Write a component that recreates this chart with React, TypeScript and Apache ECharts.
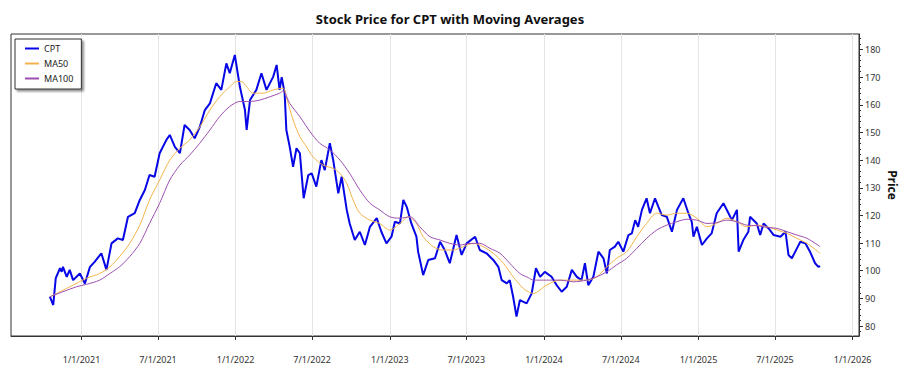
import React, { useEffect, useRef } from "react";
import * as echarts from "echarts";

const cptDates = [
  "2020-10-18","2020-10-26","2020-11-01","2020-11-11","2020-11-15","2020-11-18","2020-11-27","2020-12-04","2020-12-12","2020-12-28",
  "2021-01-09","2021-01-21","2021-02-01","2021-02-17","2021-03-01","2021-03-13","2021-03-28","2021-04-09","2021-04-21","2021-05-07",
  "2021-05-19","2021-05-31","2021-06-11","2021-06-23","2021-07-05","2021-07-21","2021-07-29","2021-08-10","2021-08-22","2021-09-02",
  "2021-09-14","2021-09-26","2021-10-08","2021-10-20","2021-11-01","2021-11-16","2021-11-28","2021-12-10","2021-12-18","2021-12-30",
  "2022-01-11","2022-01-23","2022-01-27","2022-02-04","2022-02-19","2022-03-03","2022-03-15","2022-03-31","2022-04-08","2022-04-15",
  "2022-04-20","2022-04-27","2022-05-01","2022-05-09","2022-05-17","2022-05-25","2022-06-02","2022-06-11","2022-06-22","2022-06-30",
  "2022-07-11","2022-07-23","2022-07-31","2022-08-12","2022-08-20","2022-09-01","2022-09-09","2022-09-21","2022-09-28","2022-10-10",
  "2022-10-22","2022-11-03","2022-11-15","2022-12-01","2022-12-12","2022-12-24","2023-01-05","2023-01-13","2023-01-25","2023-02-02",
  "2023-02-10","2023-02-21","2023-03-05","2023-03-09","2023-03-21","2023-04-02","2023-04-18","2023-04-30","2023-05-11","2023-05-23",
  "2023-06-08","2023-06-20","2023-07-02","2023-07-22","2023-08-02","2023-08-18","2023-09-03","2023-09-15","2023-09-23","2023-10-05",
  "2023-10-12","2023-10-20","2023-10-28","2023-11-05","2023-11-21","2023-12-03","2023-12-13","2023-12-23","2024-01-03","2024-01-19",
  "2024-01-31","2024-02-12","2024-02-24","2024-03-07","2024-03-19","2024-03-30","2024-04-07","2024-04-15","2024-04-27","2024-05-09",
  "2024-05-21","2024-05-29","2024-06-05","2024-06-17","2024-06-25","2024-07-07","2024-07-19","2024-07-27","2024-08-04","2024-08-11",
  "2024-08-20","2024-08-31","2024-09-08","2024-09-20","2024-09-28","2024-10-06","2024-10-18","2024-10-30","2024-11-11","2024-11-26",
  "2024-12-08","2024-12-16","2024-12-20","2024-12-28","2025-01-09","2025-01-21","2025-02-01","2025-02-13","2025-03-01","2025-03-13",
  "2025-03-21","2025-04-02","2025-04-06","2025-04-17","2025-04-29","2025-05-03","2025-05-19","2025-05-27","2025-06-04","2025-06-16",
  "2025-06-28","2025-07-14","2025-07-26","2025-08-02","2025-08-10","2025-08-22","2025-08-30","2025-09-11","2025-09-22","2025-10-04",
  "2025-10-12","2025-10-16"
];
const cptValues = [
  90.6, 87.6, 97.3, 100.9, 99.6, 101.4, 97.8, 100.3, 96.6, 99.0,
  95.4, 101.4, 103.2, 106.3, 100.3, 109.9, 111.7, 111.1, 119.5, 120.8,
  125.6, 129.2, 134.6, 134.0, 142.5, 147.3, 149.1, 144.8, 142.5, 152.7,
  150.9, 147.9, 152.0, 158.1, 160.5, 167.8, 165.4, 175.0, 171.4, 178.0,
  166.5, 158.1, 150.9, 161.7, 165.4, 171.4, 165.4, 170.2, 174.4, 165.4,
  170.0, 164.2, 150.9, 144.8, 137.6, 144.3, 142.5, 126.2, 134.6, 135.2,
  130.4, 140.0, 136.4, 146.1, 140.0, 128.0, 134.0, 122.0, 117.1, 111.1,
  114.1, 109.3, 115.9, 119.0, 114.1, 109.9, 112.3, 117.7, 117.1, 125.6,
  123.1, 117.1, 112.3, 106.9, 98.4, 103.9, 104.5, 110.5, 107.5, 102.7,
  112.9, 105.7, 109.9, 112.3, 107.5, 106.3, 103.9, 101.4, 96.6, 95.4,
  96.6, 90.6, 83.4, 89.4, 88.2, 91.8, 100.9, 97.8, 99.6, 97.8,
  94.8, 92.4, 94.2, 100.3, 97.8, 96.6, 102.7, 94.8, 97.8, 106.9,
  104.5, 99.0, 107.5, 108.7, 110.5, 106.9, 112.9, 113.5, 118.3, 115.9,
  122.0, 126.2, 120.8, 126.2, 123.1, 120.1, 119.5, 114.1, 122.0, 126.2,
  120.8, 117.7, 112.3, 115.9, 109.3, 111.7, 113.5, 120.8, 124.4, 120.8,
  118.3, 122.0, 106.9, 111.1, 114.1, 119.5, 117.1, 112.9, 117.1, 115.3,
  112.9, 112.3, 114.1, 105.7, 104.5, 108.1, 110.5, 109.9, 106.9, 102.7,
  101.4, 101.7
];

const ma50Dates = [
  "2020-10-18","2020-11-11","2020-12-12","2021-01-13","2021-02-13","2021-03-09","2021-04-01","2021-04-25","2021-05-19","2021-06-11",
  "2021-07-05","2021-07-29","2021-08-22","2021-09-14","2021-10-08","2021-11-01","2021-11-24","2021-12-18","2022-01-03","2022-01-15",
  "2022-01-27","2022-02-11","2022-03-07","2022-03-31","2022-04-23","2022-05-03","2022-05-17","2022-06-02","2022-06-18","2022-07-03",
  "2022-07-27","2022-08-20","2022-09-05","2022-09-21","2022-10-06","2022-10-22","2022-11-15","2022-12-08","2023-01-01","2023-01-25",
  "2023-02-14","2023-03-05","2023-03-21","2023-04-14","2023-05-07","2023-05-31","2023-06-24","2023-07-18","2023-08-10","2023-09-03",
  "2023-09-27","2023-10-20","2023-11-13","2023-11-25","2023-12-07","2024-01-07","2024-02-08","2024-03-11","2024-04-11","2024-05-05",
  "2024-05-29","2024-06-21","2024-07-15","2024-08-08","2024-08-31","2024-09-24","2024-10-18","2024-11-10","2024-12-04","2024-12-28",
  "2025-01-21","2025-02-13","2025-03-09","2025-04-02","2025-04-25","2025-05-19","2025-06-12","2025-07-06","2025-07-30","2025-08-22",
  "2025-09-15","2025-10-16"
];
const ma50Values = [
  90.6, 92.4, 94.8, 97.3, 99.0, 101.4, 105.1, 109.9, 116.5, 125.6,
  132.8, 140.0, 144.3, 147.3, 152.0, 158.1, 162.9, 166.5, 168.4, 168.4,
  166.5, 164.2, 164.2, 165.4, 166.0, 161.7, 154.5, 148.5, 144.8, 141.2,
  138.2, 137.0, 135.2, 131.6, 125.6, 120.8, 118.3, 117.1, 114.7, 117.1,
  119.5, 117.1, 112.3, 108.7, 107.5, 107.5, 108.7, 109.9, 108.7, 106.3,
  102.7, 97.8, 93.6, 92.4, 91.8, 94.8, 96.6, 96.6, 96.6, 97.8,
  101.4, 104.5, 106.9, 112.3, 117.1, 120.8, 120.1, 120.8, 120.8, 119.0,
  115.9, 117.1, 119.0, 117.7, 115.9, 116.5, 115.9, 114.7, 113.5, 111.7,
  109.9, 106.3
];

const ma100Dates = [
  "2020-10-18","2020-11-18","2020-12-20","2021-01-13","2021-02-13","2021-03-09","2021-04-01","2021-04-25","2021-05-19","2021-06-11",
  "2021-07-05","2021-07-29","2021-08-22","2021-09-14","2021-10-08","2021-11-01","2021-11-24","2021-12-18","2022-01-11","2022-02-04",
  "2022-02-27","2022-03-23","2022-04-15","2022-04-23","2022-05-09","2022-06-02","2022-06-26","2022-07-19","2022-08-12","2022-09-05",
  "2022-09-28","2022-10-22","2022-11-15","2022-12-08","2023-01-01","2023-01-25","2023-02-18","2023-03-13","2023-04-06","2023-04-30",
  "2023-05-23","2023-06-16","2023-07-10","2023-08-02","2023-08-26","2023-09-19","2023-10-12","2023-11-05","2023-11-25","2023-12-07",
  "2024-01-07","2024-02-08","2024-03-11","2024-04-11","2024-05-05","2024-05-29","2024-06-21","2024-07-15","2024-08-08","2024-08-31",
  "2024-09-24","2024-10-18","2024-11-10","2024-12-04","2024-12-28","2025-01-21","2025-02-13","2025-03-09","2025-04-02","2025-04-25",
  "2025-05-19","2025-06-12","2025-07-06","2025-07-30","2025-08-22","2025-09-15","2025-10-16"
];
const ma100Values = [
  90.6, 92.4, 94.2, 95.1, 96.6, 99.0, 101.4, 105.1, 109.9, 117.1,
  124.4, 132.8, 138.2, 141.8, 146.1, 150.9, 155.7, 159.4, 161.2, 161.2,
  161.7, 162.9, 164.2, 165.0, 160.5, 155.7, 150.3, 146.1, 143.7, 140.0,
  135.2, 129.2, 124.4, 122.0, 119.5, 119.0, 119.5, 115.9, 112.3, 111.1,
  109.9, 109.3, 109.9, 109.9, 108.1, 106.3, 102.7, 99.0, 97.5, 96.6,
  96.6, 96.6, 96.0, 96.6, 97.8, 99.6, 102.1, 104.5, 108.1, 111.7,
  114.7, 116.5, 117.7, 118.6, 118.3, 117.1, 117.4, 118.3, 117.7, 116.5,
  116.3, 115.7, 115.3, 114.1, 112.9, 111.7, 108.7
];

const xTickDates = [
  "2021-01-01","2021-07-01","2022-01-01","2022-07-01","2023-01-01","2023-07-01",
  "2024-01-01","2024-07-01","2025-01-01","2025-07-01","2026-01-01"
];
const yTickValues = [80, 90, 100, 110, 120, 130, 140, 150, 160, 170, 180];
const yMinorTickValues = [
  78, 80, 82, 84, 86, 88, 90, 92, 94, 96, 98, 100, 102, 104, 106, 108, 110, 112, 114, 116, 118, 120,
  122, 124, 126, 128, 130, 132, 134, 136, 138, 140, 142, 144, 146, 148, 150, 152, 154, 156, 158, 160,
  162, 164, 166, 168, 170, 172, 174, 176, 178, 180, 182, 184
];

const X_MIN = "2020-07-18";
const X_MAX = "2026-01-16";
const Y_MIN = 76.4;
const Y_MAX = 185.6;

const FONT = "'Noto Sans', 'Open Sans', sans-serif";

function ts(s: string): number {
  const [y, m, d] = s.split("-").map(Number);
  return new Date(y, m - 1, d).getTime();
}

function pairs(dates: string[], values: number[]) {
  return dates.map((d, i) => [ts(d), values[i]]);
}

export default function App() {
  const ref = useRef<HTMLDivElement>(null);

  useEffect(() => {
    if (!ref.current) return;
    const chart = echarts.init(ref.current, undefined, { renderer: "svg" });
    const axisColor = "#333";
    const option: any = {
      animation: false,
      backgroundColor: "#fff",
      textStyle: { fontFamily: FONT },
      title: {
        text: "Stock Price for CPT with Moving Averages",
        left: "center",
        top: 7,
        textStyle: { fontSize: 13, fontWeight: "bold", color: "#111", fontFamily: FONT },
      },
      legend: {
        orient: "vertical",
        left: 15,
        top: 39,
        backgroundColor: "#fff",
        borderColor: "#333",
        borderWidth: 1,
        borderRadius: 0,
        shadowColor: "rgba(0,0,0,0.45)",
        shadowBlur: 2,
        shadowOffsetX: 2,
        shadowOffsetY: 2,
        padding: [5, 8, 6, 9],
        itemGap: 6,
        itemWidth: 14,
        itemHeight: 10,
        itemStyle: { opacity: 0 },
        textStyle: { fontSize: 9, color: "#222", fontFamily: FONT },
        data: ["CPT", "MA50", "MA100"],
      },
      grid: {
        left: 11,
        right: 41,
        top: 34,
        bottom: 39,
        show: true,
        borderColor: axisColor,
        borderWidth: 1,
        outerBoundsMode: "none",
      },
      xAxis: {
        type: "value",
        min: ts(X_MIN),
        max: ts(X_MAX),
        scale: true,
        axisLine: { show: true, onZero: false, lineStyle: { color: axisColor, width: 1 } },
        axisTick: {
          show: true,
          length: 4,
          customValues: xTickDates.map(ts),
          lineStyle: { color: axisColor },
        },
        axisLabel: {
          customValues: xTickDates.map(ts),
          margin: 19,
          fontSize: 9,
          color: "#333",
          fontFamily: FONT,
          hideOverlap: false,
          formatter: (v: number) => {
            const d = new Date(v);
            return `${d.getMonth() + 1}/${d.getDate()}/${d.getFullYear()}`;
          },
        },
        splitLine: { show: true, lineStyle: { color: "#e4e4e4", width: 1 } },
      },
      yAxis: [
        {
          type: "value",
          position: "right",
          min: Y_MIN,
          max: Y_MAX,
          name: "Price",
          nameLocation: "middle",
          nameRotate: -90,
          nameGap: 27,
          nameMoveOverlap: false,
          nameTextStyle: { fontSize: 12, fontWeight: "bold", color: "#111", fontFamily: FONT },
          axisLine: { show: true, onZero: false, lineStyle: { color: axisColor, width: 1 } },
          axisTick: {
            show: true,
            length: 4,
            customValues: yTickValues,
            lineStyle: { color: axisColor },
          },
          axisLabel: {
            customValues: yTickValues,
            margin: 6,
            fontSize: 9,
            color: "#333",
            fontFamily: FONT,
          },
          splitLine: { show: false },
        },
        {
          type: "value",
          position: "right",
          min: Y_MIN,
          max: Y_MAX,
          axisLine: { show: false },
          axisTick: {
            show: true,
            length: 2,
            customValues: yMinorTickValues,
            lineStyle: { color: axisColor },
          },
          axisLabel: { show: false },
          splitLine: { show: false },
        },
      ],
      series: [
        {
          name: "CPT",
          type: "line",
          yAxisIndex: 0,
          data: pairs(cptDates, cptValues),
          symbol: "none",
          showSymbol: false,
          lineStyle: { color: "#0606e6", width: 2 },
          itemStyle: { color: "#0606e6" },
        },
        {
          name: "MA50",
          type: "line",
          yAxisIndex: 0,
          data: pairs(ma50Dates, ma50Values),
          symbol: "none",
          showSymbol: false,
          smooth: 0.3,
          lineStyle: { color: "#f2b44a", width: 1 },
          itemStyle: { color: "#f2b44a" },
        },
        {
          name: "MA100",
          type: "line",
          yAxisIndex: 0,
          data: pairs(ma100Dates, ma100Values),
          symbol: "none",
          showSymbol: false,
          smooth: 0.3,
          lineStyle: { color: "#9c4fb0", width: 1 },
          itemStyle: { color: "#9c4fb0" },
        },
      ],
    };
    chart.setOption(option);
    return () => chart.dispose();
  }, []);

  return <div ref={ref} style={{ width: 900, height: 375, position: "absolute", left: 0, top: 0 }} />;
}
